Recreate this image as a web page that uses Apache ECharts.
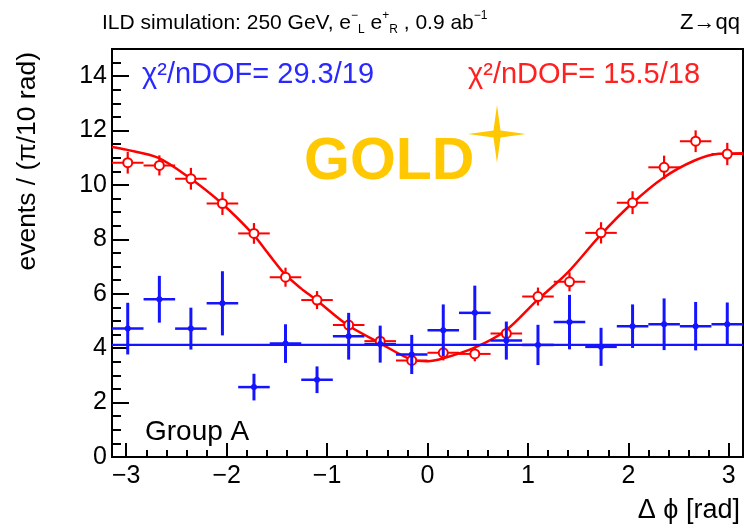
<!DOCTYPE html>
<html>
<head>
<meta charset="utf-8">
<script src="https://cdn.jsdelivr.net/npm/echarts@6/dist/echarts.min.js"></script>
<style>
  html, body { margin: 0; padding: 0; background: #fff; }
  #main { width: 744px; height: 528px; }
</style>
</head>
<body>
<div id="main"></div>
<script type="text/javascript">
    // bin centres, pi/10 wide bins from -pi to pi
    var binCenters = [-2.985, -2.670, -2.356, -2.042, -1.728, -1.414, -1.100, -0.785, -0.471, -0.157,
                      0.157, 0.471, 0.785, 1.100, 1.414, 1.728, 2.042, 2.356, 2.670, 2.985];
    var binHalfWidth = Math.PI / 20;

    // red sample (open circles) and its fit
    var redValues = [10.82, 10.72, 10.23, 9.32, 8.22, 6.61, 5.77, 4.85, 4.26, 3.55,
                     3.83, 3.79, 4.54, 5.90, 6.44, 8.24, 9.35, 10.65, 11.61, 11.14];
    var redErrors = [0.40, 0.37, 0.40, 0.42, 0.38, 0.35, 0.33, 0.31, 0.29, 0.28,
                     0.28, 0.27, 0.30, 0.33, 0.35, 0.39, 0.42, 0.43, 0.40, 0.41];
    var redFitX = [-3.1416, -3.0, -2.68, -2.39, -2.05, -1.74, -1.58, -1.42, -1.26, -1.11, -0.80, -0.49,
                   -0.16, 0.0, 0.15, 0.47, 0.78, 1.08, 1.40, 1.72, 2.03, 2.35, 2.66, 2.90, 3.1416];
    var redFitY = [11.40, 11.30, 11.00, 10.32, 9.33, 8.20, 7.45, 6.72, 6.20, 5.78, 4.86, 4.22,
                   3.58, 3.52, 3.62, 4.02, 4.65, 5.72, 6.80, 8.15, 9.30, 10.27, 10.90, 11.15, 11.17];

    // blue sample (dots) and its flat fit
    var blueValues = [4.72, 5.80, 4.72, 5.65, 2.57, 4.17, 2.84, 4.44, 4.15, 3.77,
                      4.66, 5.30, 4.28, 4.12, 4.96, 4.05, 4.81, 4.88, 4.81, 4.88];
    var blueErrors = [0.95, 0.86, 0.77, 1.18, 0.49, 0.71, 0.49, 0.86, 0.68, 0.72,
                      0.95, 1.00, 0.70, 0.74, 1.00, 0.70, 0.80, 0.95, 0.89, 0.80];
    var blueFitX = [-3.1416, 3.1416];
    var blueFitY = [4.12, 4.12];

    // axis ticks
    var xMajorTicks = [-3, -2, -1, 0, 1, 2, 3];
    var xMinorTicks = [-3.0, -2.8, -2.6, -2.4, -2.2, -2.0, -1.8, -1.6, -1.4, -1.2, -1.0, -0.8, -0.6, -0.4, -0.2,
                       0.0, 0.2, 0.4, 0.6, 0.8, 1.0, 1.2, 1.4, 1.6, 1.8, 2.0, 2.2, 2.4, 2.6, 2.8, 3.0];
    var yMajorTicks = [0, 2, 4, 6, 8, 10, 12, 14];
    var yMinorTicks = [0.5, 1, 1.5, 2.5, 3, 3.5, 4.5, 5, 5.5, 6.5, 7, 7.5, 8.5, 9, 9.5,
                       10.5, 11, 11.5, 12.5, 13, 13.5, 14.5];

    var FONT = '"Liberation Sans", Arial, sans-serif';
    var RED = '#ff0000';
    var BLUE = '#1414ff';

    function pairs(xs, ys, es) {
        return xs.map(function (x, i) { return es ? [x, ys[i], es[i]] : [x, ys[i]]; });
    }

    function errorBars(color, hWidth, vWidth) {
        return function (params, api) {
            var x = api.value(0), y = api.value(1), e = api.value(2);
            var l = api.coord([x - binHalfWidth, y]);
            var r = api.coord([x + binHalfWidth, y]);
            var t = api.coord([x, y + e]);
            var b = api.coord([x, y - e]);
            return {
                type: 'group',
                children: [
                    { type: 'line', shape: { x1: l[0], y1: l[1], x2: r[0], y2: r[1] },
                      style: { stroke: color, lineWidth: hWidth } },
                    { type: 'line', shape: { x1: t[0], y1: t[1], x2: b[0], y2: b[1] },
                      style: { stroke: color, lineWidth: vWidth } }
                ]
            };
        };
    }

    function starPoints(cx, cy, rOut, rIn) {
        var pts = [];
        for (var i = 0; i < 8; i++) {
            var a = -Math.PI / 2 + i * Math.PI / 4;
            var r = i % 2 === 0 ? rOut : rIn;
            pts.push([cx + r * Math.cos(a), cy + r * Math.sin(a)]);
        }
        return pts;
    }

    function minusFmt(v) {
        return v < 0 ? '\u2212' + (-v) : String(v);
    }

    var chart = echarts.init(document.getElementById('main'), null, { renderer: 'canvas' });

    var option = {
        animation: false,
        backgroundColor: '#fff',
        grid: {
            left: 112, right: 1, top: 49, bottom: 71,
            show: true, borderColor: '#000', borderWidth: 2
        },
        xAxis: [{
            type: 'value', min: -Math.PI, max: Math.PI,
            axisLine: { show: false, onZero: false },
            splitLine: { show: false },
            axisTick: { inside: true, length: 14, customValues: xMajorTicks,
                        lineStyle: { color: '#000', width: 2 } },
            axisLabel: { customValues: xMajorTicks, formatter: minusFmt, margin: 7,
                         color: '#000', fontSize: 25, fontFamily: FONT }
        }, {
            type: 'value', min: -Math.PI, max: Math.PI, position: 'bottom',
            axisLine: { show: false, onZero: false },
            splitLine: { show: false },
            axisTick: { inside: true, length: 7, customValues: xMinorTicks,
                        lineStyle: { color: '#000', width: 2 } },
            axisLabel: { show: false }
        }],
        yAxis: [{
            type: 'value', min: 0, max: 15, position: 'left',
            axisLine: { show: false, onZero: false },
            splitLine: { show: false },
            axisTick: { inside: true, length: 17, customValues: yMajorTicks,
                        lineStyle: { color: '#000', width: 2 } },
            axisLabel: { customValues: yMajorTicks, margin: 5,
                         color: '#000', fontSize: 25, fontFamily: FONT }
        }, {
            type: 'value', min: 0, max: 15, position: 'left',
            axisLine: { show: false, onZero: false },
            splitLine: { show: false },
            axisTick: { inside: true, length: 9, customValues: yMinorTicks,
                        lineStyle: { color: '#000', width: 2 } },
            axisLabel: { show: false }
        }],
        series: [{
            name: 'red errors', type: 'custom',
            renderItem: errorBars(RED, 2, 2.2),
            data: pairs(binCenters, redValues, redErrors),
            z: 2
        }, {
            name: 'red fit', type: 'line',
            data: pairs(redFitX, redFitY),
            smooth: 0.3, showSymbol: false,
            lineStyle: { color: RED, width: 2.5 },
            z: 3
        }, {
            name: 'red points', type: 'scatter',
            data: pairs(binCenters, redValues),
            symbol: 'circle', symbolSize: 9,
            itemStyle: { color: '#fff', borderColor: RED, borderWidth: 2, opacity: 1 },
            z: 4
        }, {
            name: 'blue errors', type: 'custom',
            renderItem: errorBars(BLUE, 2.5, 3),
            data: pairs(binCenters, blueValues, blueErrors),
            z: 5
        }, {
            name: 'blue fit', type: 'line',
            data: pairs(blueFitX, blueFitY),
            showSymbol: false,
            lineStyle: { color: BLUE, width: 2.2 },
            z: 6
        }, {
            name: 'blue points', type: 'scatter',
            data: pairs(binCenters, blueValues),
            symbol: 'circle', symbolSize: 6,
            itemStyle: { color: BLUE, opacity: 1 },
            z: 7
        }],
        graphic: [{
            type: 'text', x: 102, y: 23,
            style: {
                text: 'ILD simulation: 250 GeV, e{sup|\u2212}{sub|L} e{sup|+}{sub|R} , 0.9 ab{sup|\u22121}',
                font: '21px ' + FONT, fill: '#000',
                textAlign: 'left', textVerticalAlign: 'middle',
                rich: {
                    sup: { fontSize: 12, fontFamily: 'Liberation Sans', verticalAlign: 'top', lineHeight: 26 },
                    sub: { fontSize: 12, fontFamily: 'Liberation Sans', verticalAlign: 'bottom', lineHeight: 26 }
                }
            }
        }, {
            type: 'text', x: 740, y: 23,
            style: { text: 'Z\u2192qq', font: '22px ' + FONT, fill: '#000',
                     textAlign: 'right', textVerticalAlign: 'middle' }
        }, {
            type: 'text', x: 28, y: 52, rotation: Math.PI / 2,
            style: { text: 'events / (\u03c0/10 rad)', font: '26.5px ' + FONT, fill: '#000',
                     textAlign: 'right', textVerticalAlign: 'middle' }
        }, {
            type: 'text', x: 740, y: 511,
            style: { text: '\u0394 \u03d5 [rad]', font: '27px ' + FONT, fill: '#000',
                     textAlign: 'right', textVerticalAlign: 'middle' }
        }, {
            type: 'text', x: 142, y: 75,
            style: { text: '\u03c7\u00b2/nDOF= 29.3/19', font: '29px ' + FONT, fill: '#2828ff',
                     textAlign: 'left', textVerticalAlign: 'middle' }
        }, {
            type: 'text', x: 468, y: 75,
            style: { text: '\u03c7\u00b2/nDOF= 15.5/18', font: '29px ' + FONT, fill: '#ff2020',
                     textAlign: 'left', textVerticalAlign: 'middle' }
        }, {
            type: 'text', x: 304, y: 163,
            style: { text: 'GOLD', font: 'bold 59px ' + FONT, fill: '#ffc800',
                     textAlign: 'left', textVerticalAlign: 'middle' }
        }, {
            type: 'polygon',
            shape: { points: starPoints(497, 134, 29, 5) },
            style: { fill: '#ffc800' }
        }, {
            type: 'text', x: 145, y: 432,
            style: { text: 'Group A', font: '28px ' + FONT, fill: '#000',
                     textAlign: 'left', textVerticalAlign: 'middle' }
        }]
    };

    chart.setOption(option);
</script>
</body>
</html>
